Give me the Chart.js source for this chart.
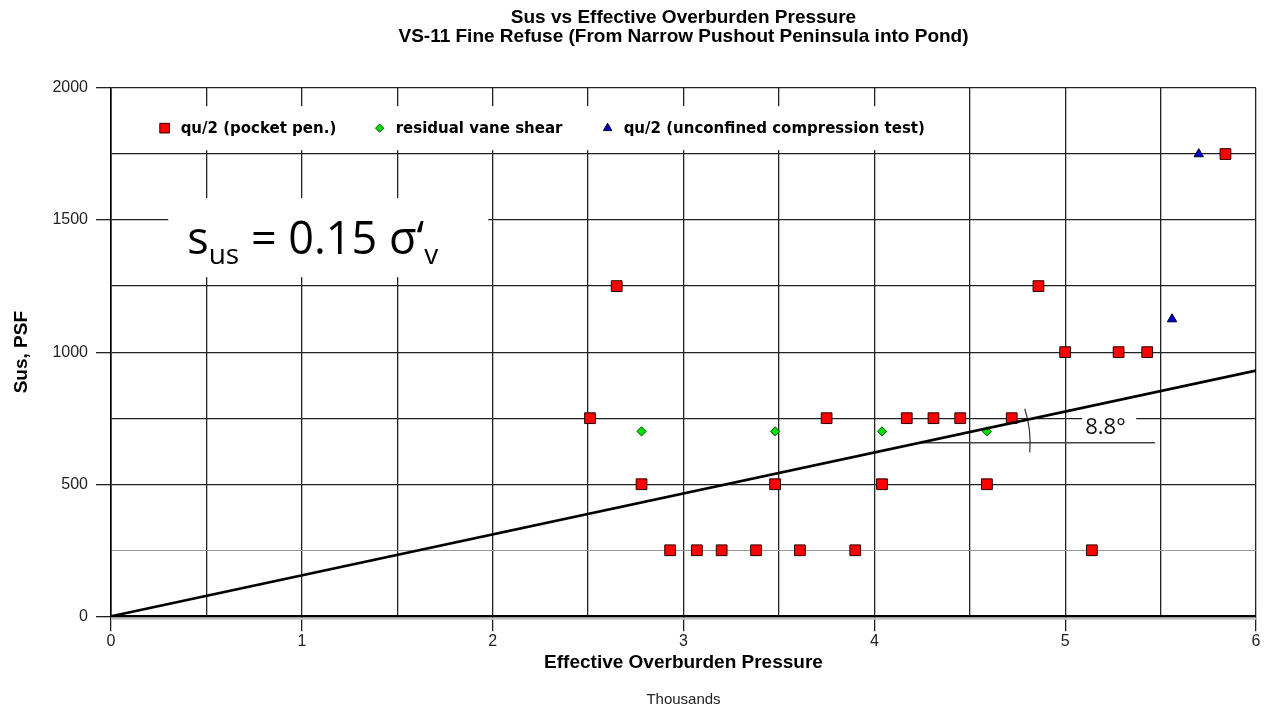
<!DOCTYPE html>
<html>
<head>
<meta charset="utf-8">
<script src="https://cdn.jsdelivr.net/npm/chart.js@4.4.0/dist/chart.umd.min.js"></script>
<style>
  body { margin: 0; background: #fff; }
  #wrap { width: 1268px; height: 720px; }
</style>
</head>
<body>
<div id="wrap"><canvas id="susChart"></canvas></div>
<script>
// effective overburden pressure in thousands of psf, Sus in psf
const pocketX = [2.51, 2.65, 2.78, 2.93, 3.07, 3.20, 3.38, 3.48, 3.61, 3.75, 3.90, 4.04, 4.17, 4.31, 4.45, 4.59, 4.72, 4.86, 5.00, 5.14, 5.28, 5.43, 5.84]
const pocketY = [750, 1250, 500, 250, 250, 250, 250, 500, 250, 750, 250, 500, 750, 750, 750, 500, 750, 1250, 1000, 250, 1000, 1000, 1750]
const vaneX = [2.78, 3.48, 4.04, 4.59]
const vaneY = [700, 700, 700, 700]
const unconfX = [5.56, 5.70]
const unconfY = [1125, 1750]
const fitX = [0, 6]
const fitY = [0, 930]

const xLabels = [0, 1, 2, 3, 4, 5, 6]
const yLabels = [0, 500, 1000, 1500, 2000]

const toPoints = (xs, ys) => xs.map((v, i) => ({ x: v, y: ys[i] }))

// annotation placement, in data units
const eqBoxAt = { x: 0.30, y: 1583 }
const legendAt = { x: 0.04, y: 1848 }
const angleAt = { x: 4.24, y: 657 }
const angleLineEnd = 5.47
const angleLabelAt = { x: 5.105, y: 713 }

const overlays = {
  id: 'overlays',
  beforeDatasetsDraw(chart) {
    const { ctx, scales: { x, y } } = chart
    ctx.save()

    // legend, drawn inside the plot on a white box
    const lx = x.getPixelForValue(legendAt.x)
    const ly = y.getPixelForValue(legendAt.y)
    ctx.font = 'bold 15px "DejaVu Sans"'
    ctx.textBaseline = 'middle'
    const items = chart.data.datasets.filter(d => d.inLegend)
    const offsets = [46, 261, 489]
    const last = items[items.length - 1]
    const boxW = offsets[items.length - 1] + 16 + ctx.measureText(last.label).width + 12
    ctx.fillStyle = '#fff'
    ctx.fillRect(lx, ly - 22, boxW, 44)
    items.forEach((d, i) => {
      const px = lx + offsets[i]
      ctx.fillStyle = d.backgroundColor
      ctx.strokeStyle = d.borderColor
      ctx.lineWidth = 1
      Chart.helpers.drawPoint(ctx, { pointStyle: d.pointStyle, radius: d.pointRadius * 0.9, borderWidth: 1 }, px, ly)
      ctx.fillStyle = '#000'
      ctx.fillText(d.label, px + 16, ly + 1)
    })

    // equation box
    const ex = x.getPixelForValue(eqBoxAt.x)
    const ey = y.getPixelForValue(eqBoxAt.y)
    ctx.fillStyle = '#fff'
    ctx.fillRect(ex, ey, 320, 79)
    ctx.fillStyle = '#000'
    ctx.textBaseline = 'alphabetic'
    const big = '45px "Open Sans"'
    const sub = '28px "Open Sans"'
    let cx = ex + 19
    const base = ey + 56
    const part = (t, f, dy) => {
      ctx.font = f
      ctx.fillText(t, cx, base + dy)
      cx += ctx.measureText(t).width
    }
    part('s', big, 0)
    part('us', sub, 10)
    part(' = 0.15 σ‘', big, 0)
    part('v', sub, 10)

    // angle mark
    const ax = x.getPixelForValue(angleAt.x)
    const ay = y.getPixelForValue(angleAt.y)
    ctx.strokeStyle = '#444'
    ctx.lineWidth = 1.5
    ctx.beginPath()
    ctx.moveTo(ax, ay)
    ctx.lineTo(x.getPixelForValue(angleLineEnd), ay)
    ctx.stroke()
    ctx.lineWidth = 1.2
    ctx.strokeStyle = '#333'
    ctx.beginPath()
    ctx.arc(ax, ay, 110, -18 * Math.PI / 180, 5 * Math.PI / 180)
    ctx.stroke()

    const tx = x.getPixelForValue(angleLabelAt.x)
    const ty = y.getPixelForValue(angleLabelAt.y)
    ctx.fillStyle = '#fff'
    ctx.fillRect(tx - 3, ty - 14, 54, 26)
    ctx.fillStyle = '#111'
    ctx.font = '22px "Open Sans"'
    ctx.textBaseline = 'middle'
    ctx.fillText('8.8°', tx, ty)

    // light shadow under the x axis
    const y0 = y.getPixelForValue(0)
    ctx.strokeStyle = '#c4c4c4'
    ctx.lineWidth = 2
    ctx.beginPath()
    ctx.moveTo(x.left, y0 + 2.5)
    ctx.lineTo(x.right, y0 + 2.5)
    ctx.stroke()

    ctx.restore()
  }
}

const ctx = document.getElementById('susChart')

new Chart(ctx, {
  type: 'scatter',
  data: {
    datasets: [{
      label: 'fit',
      type: 'line',
      data: toPoints(fitX, fitY),
      borderColor: '#000',
      borderWidth: 2.6,
      pointRadius: 0,
      fill: false
    },
    {
      label: 'qu/2 (pocket pen.)',
      inLegend: true,
      data: toPoints(pocketX, pocketY),
      pointStyle: 'rect',
      pointRadius: 7.6,
      backgroundColor: '#ff0000',
      borderColor: '#2a0000',
      borderWidth: 1
    },
    {
      label: 'residual vane shear',
      inLegend: true,
      data: toPoints(vaneX, vaneY),
      pointStyle: 'rectRot',
      pointRadius: 4.6,
      backgroundColor: '#00e000',
      borderColor: '#005500',
      borderWidth: 1
    },
    {
      label: 'qu/2 (unconfined compression test)',
      inLegend: true,
      data: toPoints(unconfX, unconfY),
      pointStyle: 'triangle',
      pointRadius: 5.4,
      backgroundColor: '#0000d0',
      borderColor: '#000022',
      borderWidth: 1
    }]
  },
  options: {
    responsive: true,
    maintainAspectRatio: false,
    animation: false,
    layout: {
      padding: { left: 0, right: 12, top: 0, bottom: 0 }
    },
    plugins: {
      legend: { display: false },
      tooltip: { enabled: false },
      title: {
        display: true,
        fullSize: false,
        text: ['Sus vs Effective Overburden Pressure', 'VS-11 Fine Refuse (From Narrow Pushout Peninsula into Pond)'],
        color: '#000',
        font: { family: '"Liberation Sans", Arial', size: 19, weight: 'bold', lineHeight: 1.0 },
        padding: { top: 8, bottom: 42 }
      },
      subtitle: {
        display: true,
        fullSize: false,
        position: 'bottom',
        text: 'Thousands',
        color: '#222',
        font: { family: '"Liberation Sans", Arial', size: 15, lineHeight: 1.2 },
        padding: { top: 16.7, bottom: 11 }
      }
    },
    scales: {
      x: {
        type: 'linear',
        min: 0,
        max: 6,
        afterFit(scale) { scale.height = 58 },
        ticks: {
          stepSize: 0.5,
          autoSkip: false,
          maxRotation: 0,
          padding: 2,
          color: '#222',
          font: { family: '"Liberation Sans", Arial', size: 16, lineHeight: 1 },
          callback: (v) => xLabels.includes(v) ? v : ''
        },
        grid: {
          color: '#222',
          lineWidth: 1.3,
          tickLength: 15,
          tickColor: (c) => xLabels.includes(c.tick.value) ? '#222' : 'rgba(0,0,0,0)'
        },
        border: { color: '#000', width: 2.2 },
        title: {
          display: true,
          text: 'Effective Overburden Pressure',
          color: '#000',
          font: { family: '"Liberation Sans", Arial', size: 19, weight: 'bold', lineHeight: 1.2 },
          padding: 0
        }
      },
      y: {
        min: 0,
        max: 2000,
        afterFit(scale) { scale.width = 111 },
        ticks: {
          stepSize: 250,
          padding: 8,
          color: '#222',
          font: { family: '"Liberation Sans", Arial', size: 16 },
          callback: (v) => yLabels.includes(v) ? v : ''
        },
        grid: {
          color: (c) => c.tick.value === 250 ? '#9a9a9a' : '#222',
          lineWidth: (c) => c.tick.value === 250 ? 1 : 1.3,
          tickLength: 15,
          tickColor: (c) => yLabels.includes(c.tick.value) ? '#222' : 'rgba(0,0,0,0)'
        },
        border: { color: '#000', width: 1.6 },
        title: {
          display: true,
          text: 'Sus, PSF',
          color: '#000',
          font: { family: '"Liberation Sans", Arial', size: 19, weight: 'bold', lineHeight: 1.2 },
          padding: { top: 10.6, bottom: 0 }
        }
      }
    }
  },
  plugins: [overlays]
})
</script>
</body>
</html>
